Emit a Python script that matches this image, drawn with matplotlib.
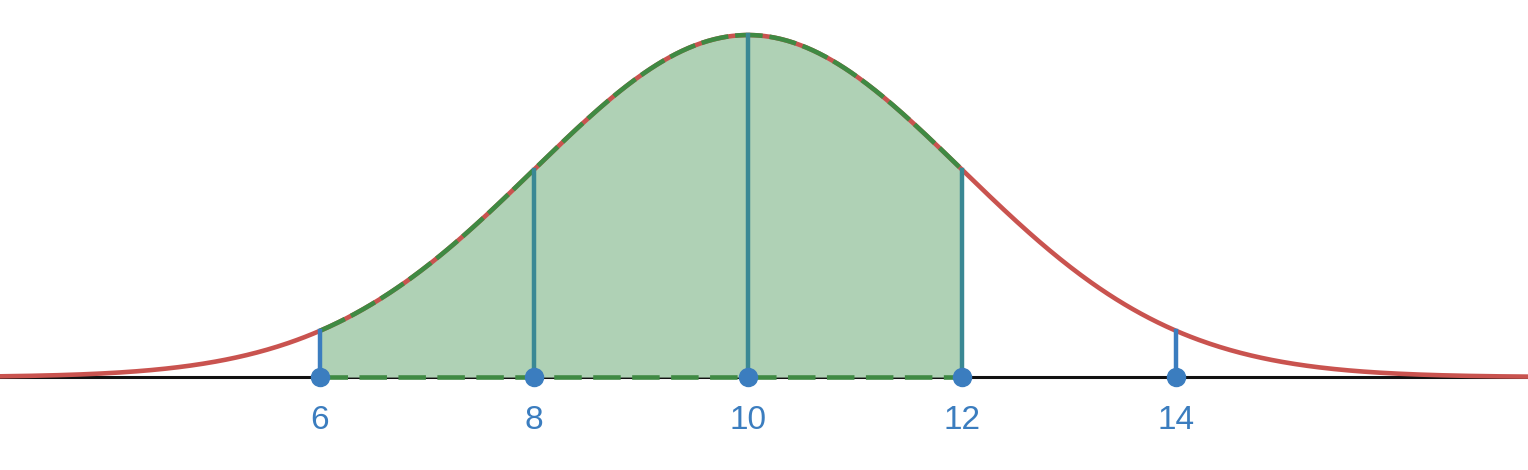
import numpy as np
import matplotlib.pyplot as plt

plt.rcParams['font.family'] = ['Liberation Sans', 'DejaVu Sans']

# normal distribution parameters
mu = 10
sigma = 2
tick_values = [6, 8, 10, 12, 14]
shade_from, shade_to = 6, 12
inner_stems = [8, 10, 12]
outer_stems = [6, 14]


def pdf(x):
    return np.exp(-0.5 * ((x - mu) / sigma) ** 2) / (sigma * np.sqrt(2 * np.pi))


red = "#c9534f"
green = "#3f8a43"
fill_green = "#afd1b5"
blue = "#3b7dbf"
teal = "#3a8894"

fig = plt.figure(figsize=(15.28, 4.7), dpi=100)
ax = fig.add_axes([0, 0, 1, 1])
ax.set_xlim(3.009, 17.29)
ax.set_ylim(-0.0542, 0.2199)
ax.axis("off")

# baseline
ax.axhline(0, color="#111111", lw=2.2, zorder=1)

# full curve
xs = np.linspace(2.5, 18, 800)
ax.plot(xs, pdf(xs), color=red, lw=3.3, zorder=2)

# shaded region
xf = np.linspace(shade_from, shade_to, 400)
ax.fill_between(xf, 0, pdf(xf), color=fill_green, lw=0, zorder=1.5)
ax.plot(xf, pdf(xf), color=green, lw=3.3, dashes=(6, 1.5), zorder=3)
ax.plot([shade_from, shade_to], [0, 0], color=green, lw=3.3, dashes=(6, 2.5), zorder=3)

# stems
for x in outer_stems:
    ax.plot([x, x], [0, pdf(x)], color=blue, lw=3.2, zorder=4)
for x in inner_stems:
    ax.plot([x, x], [0, pdf(x)], color=teal, lw=3.2, zorder=4)

# dots and labels
ax.plot(tick_values, [0] * len(tick_values), "o", color=blue, ms=13, zorder=5)
for x in tick_values:
    ax.text(x, -0.0255, str(x), color=blue, fontsize=24, ha="center", va="center")

fig.savefig("out.png", dpi=100)
